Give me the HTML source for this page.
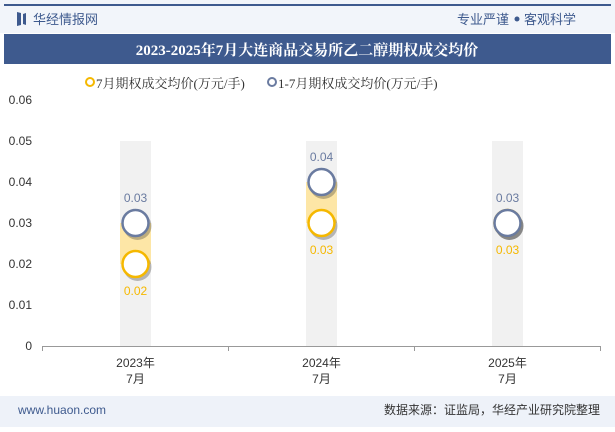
<!DOCTYPE html>
<html><head><meta charset="utf-8">
<style>
body{margin:0;width:615px;height:427px;overflow:hidden;background:#fff;font-family:"Liberation Sans","Noto Sans CJK SC",sans-serif;}
</style></head>
<body>
<svg id="c" width="615" height="427" xmlns="http://www.w3.org/2000/svg">
<rect x="0" y="0" width="615" height="33" fill="#f2f5fa"/>
<rect x="4" y="4" width="607" height="2" fill="#3e5a8e"/>
<path d="M17 12 L21 13 L21 25 L17 26 Z M23 14 L26 13 L26 25 L23 24 Z" fill="#3e5a8e"/>
<text x="33" y="24" font-size="13" fill="#3e5a8e">华经情报网</text>
<text x="509" y="24" font-size="13" fill="#3e5a8e" text-anchor="end">专业严谨</text>
<circle cx="517" cy="19" r="2.5" fill="#3e5a8e"/>
<text x="524" y="24" font-size="13" fill="#3e5a8e">客观科学</text>
<rect x="4" y="34" width="607" height="30" fill="#3e5a8e"/>
<text x="307" y="55" font-size="15" font-weight="bold" fill="#fff" text-anchor="middle" font-family="'Liberation Serif','Noto Serif CJK SC',serif">2023-2025年7月大连商品交易所乙二醇期权成交均价</text>
<circle cx="90" cy="82" r="4" fill="none" stroke="#f5b800" stroke-width="2"/>
<text x="96" y="88" font-size="13" fill="#333" font-family="'Liberation Serif','Noto Serif CJK SC',serif">7月期权成交均价(万元/手)</text>
<circle cx="272" cy="82" r="4" fill="none" stroke="#6a7ba0" stroke-width="2"/>
<text x="278" y="88" font-size="13" fill="#333" font-family="'Liberation Serif','Noto Serif CJK SC',serif">1-7月期权成交均价(万元/手)</text>
<g id="plot"></g>
<rect x="0" y="396" width="615" height="31" fill="#eef2f9"/>
<text x="18" y="414" font-size="12" fill="#3e5a8e">www.huaon.com</text>
<text x="600" y="414" font-size="12" fill="#333" text-anchor="end">数据来源：证监局，华经产业研究院整理</text>
</svg>
<script>
const categories=["2023年|7月","2024年|7月","2025年|7月"];
const monthly=[0.02,0.03,0.03];
const cumulative=[0.03,0.04,0.03];
const yTicks=[0,0.01,0.02,0.03,0.04,0.05,0.06];
const yLabels=["0","0.01","0.02","0.03","0.04","0.05","0.06"];
const bgBar=0.05;
const NS="http://www.w3.org/2000/svg";
const g=document.getElementById("plot");
const x0=42,x1=600,y0=346,y1=100;
const yS=v=>y0-(v/0.06)*(y0-y1);
function el(t,a,p){const e=document.createElementNS(NS,t);for(const k in a)e.setAttribute(k,a[k]);(p||g).appendChild(e);return e;}
function cx(i){return 135.5+i*186;}
yTicks.forEach((v,i)=>{const t=el("text",{x:32,y:yS(v)+4,"font-size":12,fill:"#333","text-anchor":"end"});t.textContent=yLabels[i];

});
categories.forEach((c,i)=>{
 const b=el("rect",{x:cx(i)-15.5,y:yS(bgBar),width:31,height:y0-yS(bgBar),fill:"#f1f1f1"});
 
 
 const lo=Math.min(monthly[i],cumulative[i]),hi=Math.max(monthly[i],cumulative[i]);
 if(hi>lo){const r=el("rect",{x:cx(i)-15.5,y:yS(hi),width:31,height:yS(lo)-yS(hi),fill:"#fde6a6"});
 
 }
 const p=c.split("|");
 const t1=el("text",{x:cx(i),y:367,"font-size":12,fill:"#333","text-anchor":"middle"});t1.textContent=p[0];
 
 
 const t2=el("text",{x:cx(i),y:383,"font-size":12,fill:"#333","text-anchor":"middle"});t2.textContent=p[1];
 
 
});
const ax=el("line",{x1:x0,y1:y0+0.5,x2:x1,y2:y0+0.5,stroke:"#999"});


[0,1,2,3].forEach(k=>{const tk=el("line",{x1:cx(0)-93+186*k,y1:y0,x2:cx(0)-93+186*k,y2:y0+5,stroke:"#999"});

});
function marker(i,v,col,name,above){
 const sh=el("circle",{cx:cx(i)+2,cy:yS(v)+3,r:14,fill:"rgba(0,0,0,0.25)"});
 
 
 const c=el("circle",{cx:cx(i),cy:yS(v),r:13,fill:"#fff",stroke:col,"stroke-width":2.5});
 
 
 const t=el("text",{x:cx(i),y:above?yS(v)-21:yS(v)+31,"font-size":12,fill:col,"text-anchor":"middle"});t.textContent=v.toFixed(2);
 
 
}
categories.forEach((c,i)=>{marker(i,monthly[i],"#f5b800","monthly-marker",false);marker(i,cumulative[i],"#6a7ba0","cumulative-marker",true);});
</script>
</body></html>
